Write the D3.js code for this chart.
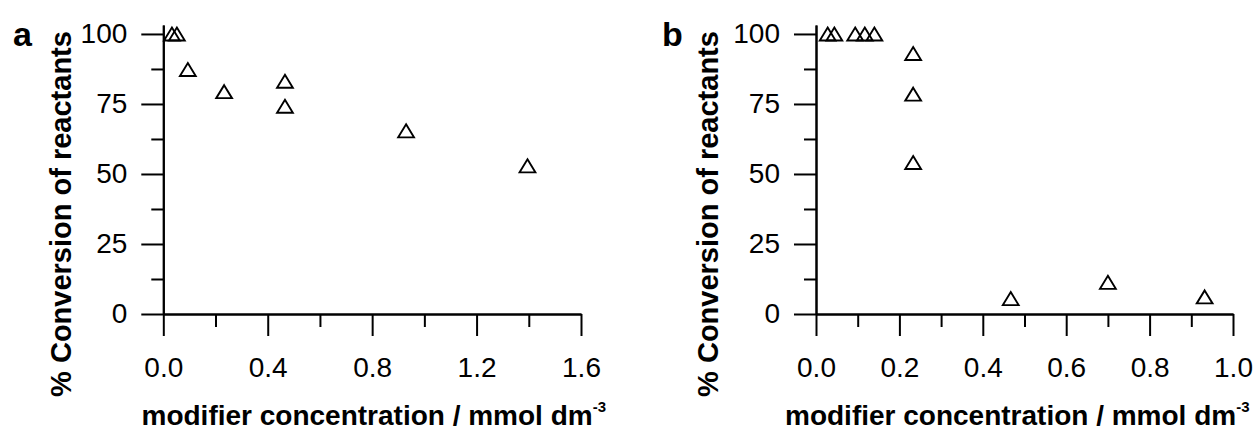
<!DOCTYPE html>
<html>
<head>
<meta charset="utf-8">
<script src="https://cdn.jsdelivr.net/npm/d3@7"></script>
<style>
    body { margin: 0; background: #fff; }
    svg text { font-family: "Liberation Sans", Arial, sans-serif; fill: #000; }
</style>
</head>
<body>
<div id="chart"></div>
<script>
// panel a
const aX = [0.033, 0.052, 0.094, 0.233, 0.466, 0.466, 0.93, 1.395];
const aY = [100, 100, 87.3, 79.4, 83.1, 74.2, 65.4, 52.9];
const aXTicks = [0, 0.4, 0.8, 1.2, 1.6];
const aXMinor = [0.2, 0.6, 1.0, 1.4];

// panel b
const bX = [0.028, 0.044, 0.094, 0.117, 0.14, 0.233, 0.233, 0.233, 0.467, 0.70, 0.932];
const bY = [100, 100, 100, 100, 100, 93.0, 78.5, 54.1, 5.5, 11.3, 6.1];
const bXTicks = [0, 0.2, 0.4, 0.6, 0.8, 1.0];
const bXMinor = [0.1, 0.3, 0.5, 0.7, 0.9];

const yTicks = [0, 25, 50, 75, 100];
const yMinor = [12.5, 37.5, 62.5, 87.5];

const yLabel = '% Conversion of reactants';
const xLabel = 'modifier concentration / mmol dm';

const width = 1260;
const height = 432;

const svg = d3.select('#chart')
    .append('svg')
    .attr('width', width)
    .attr('height', height);

function panel(opts) {
    const x = d3.scaleLinear()
        .domain([0, opts.xMax])
        .range([opts.left, opts.right]);

    const y = d3.scaleLinear()
        .domain([0, 103.2])
        .range([314, 25]);

    const g = svg.append('g');

    // minor ticks first, then major
    g.append('g')
        .attr('transform', `translate(0,${y(0)})`)
        .call(d3.axisBottom(x).tickValues(opts.xMinor).tickSize(13).tickSizeOuter(0).tickFormat(''));

    g.append('g')
        .attr('transform', `translate(${x(0)},0)`)
        .call(d3.axisLeft(y).tickValues(yMinor).tickSize(12).tickSizeOuter(0).tickFormat(''));

    const xAxis = g.append('g')
        .attr('transform', `translate(0,${y(0)})`)
        .call(d3.axisBottom(x)
            .tickValues(opts.xTicks)
            .tickSize(22)
            .tickSizeOuter(0)
            .tickPadding(21)
            .tickFormat(d3.format('.1f')));

    const yAxis = g.append('g')
        .attr('transform', `translate(${x(0)},0)`)
        .call(d3.axisLeft(y)
            .tickValues(yTicks)
            .tickSize(22)
            .tickSizeOuter(0)
            .tickPadding(14)
            .tickFormat(d3.format('d')));

    g.selectAll('.domain, .tick line')
        .attr('stroke', '#000')
        .attr('stroke-width', 2);

    g.selectAll('.tick text')
        .attr('font-size', 28)
        .attr('font-family', '"Liberation Sans", Arial, sans-serif')
        .attr('fill', '#000');

    // open triangles, centred on their box
    const w = 15.8, h = 13;
    g.append('g')
        .selectAll('path')
        .data(opts.xs.map((v, i) => ({x: v, y: opts.ys[i]})))
        .join('path')
        .attr('transform', (d) => `translate(${x(d.x)},${y(d.y)})`)
        .attr('d', `M0,${-h / 2}L${w / 2},${h / 2}L${-w / 2},${h / 2}Z`)
        .attr('fill', 'none')
        .attr('stroke', '#000')
        .attr('stroke-width', 1.9)
        .attr('stroke-linejoin', 'miter');

    // axis titles
    g.append('text')
        .attr('transform', `translate(${opts.yTitleX},214) rotate(-90)`)
        .attr('text-anchor', 'middle')
        .attr('font-size', 29)
        .attr('font-weight', 'bold')
        .text(yLabel);

    const xt = g.append('text')
        .attr('x', opts.xTitleX)
        .attr('y', 425)
        .attr('font-size', 28)
        .attr('font-weight', 'bold');
    xt.append('tspan').text(xLabel);
    xt.append('tspan')
        .attr('font-size', 15)
        .attr('dy', -13)
        .text('-3');

    g.append('text')
        .attr('x', opts.tagX)
        .attr('y', 46)
        .attr('font-size', 34)
        .attr('font-weight', 'bold')
        .text(opts.tag);
}

panel({
    tag: 'a', tagX: 13,
    xs: aX, ys: aY,
    xMax: 1.6, xTicks: aXTicks, xMinor: aXMinor,
    left: 163.3, right: 581,
    yTitleX: 71, xTitleX: 141.5
});

panel({
    tag: 'b', tagX: 662,
    xs: bX, ys: bY,
    xMax: 1.0, xTicks: bXTicks, xMinor: bXMinor,
    left: 816, right: 1233,
    yTitleX: 718, xTitleX: 785
});
</script>
</body>
</html>
